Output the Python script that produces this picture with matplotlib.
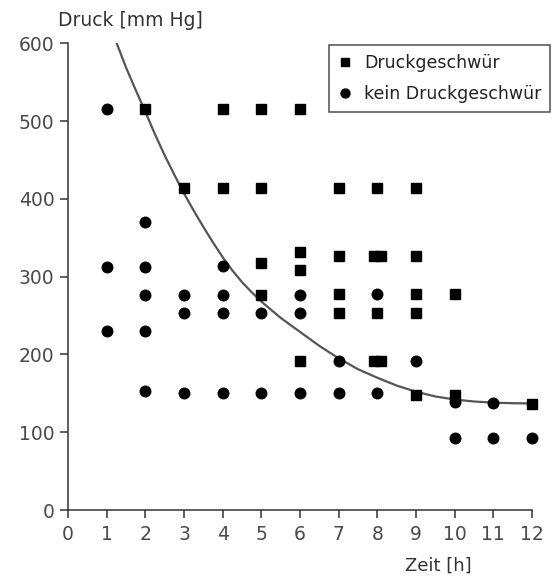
import matplotlib
matplotlib.use("Agg")
import matplotlib.pyplot as plt

# Druckgeschwür (squares)
sq_x = [2, 4, 5, 6,
        3, 4, 5, 7, 8, 9,
        6, 6, 5, 7, 7.91, 8.09, 9,
        5, 7, 9, 10,
        7, 8, 9,
        6, 7.91, 8.09,
        9, 10, 12]
sq_y = [515, 515, 515, 515,
        414, 414, 414, 414, 414, 414,
        332, 308, 318, 326, 326, 326, 326,
        276, 278, 278, 278,
        253, 253, 253,
        191, 191, 191,
        148, 148, 136]

# kein Druckgeschwür (circles)
ci_x = [1, 1, 1,
        2, 2, 2, 2, 2,
        3, 3, 3,
        4, 4, 4, 4,
        5, 5,
        6, 6, 6,
        7, 7,
        8, 8,
        9,
        10, 11,
        10, 11, 12]
ci_y = [515, 312, 230,
        370, 312, 276, 230, 153,
        276, 253, 151,
        314, 276, 253, 151,
        253, 151,
        276, 253, 151,
        192, 151,
        278, 151,
        192,
        139, 138,
        92, 92, 92]

# fitted curve
curve_x = [1.26, 1.5, 1.75, 2.0, 2.25, 2.5, 2.75, 3.0, 3.25, 3.5, 3.75, 4.0,
           4.25, 4.5, 4.75, 5.0, 5.5, 6.0, 6.5, 7.0, 7.5, 8.0, 8.5, 9.0, 9.5,
           10.0, 10.5, 11.0, 11.5, 12.0]
curve_y = [600, 569, 540, 512, 483, 456, 431, 407, 385, 364, 344, 325,
           308, 293, 280, 268, 247, 229, 211, 195, 181, 170, 160, 152, 146,
           142, 139.5, 138, 137.3, 137]

x_ticks = list(range(0, 13))
y_ticks = list(range(0, 700, 100))

W, H = 554, 579
fig = plt.figure(figsize=(W / 100, H / 100), dpi=100)
ax = fig.add_axes([68 / W, 1 - 510 / H, (532 - 68) / W, (510 - 43.3) / H])

ax.plot(curve_x, curve_y, color="#555555", lw=1.6, zorder=2, clip_on=True)
ax.plot(sq_x, sq_y, linestyle="none", marker="s", markersize=7.6,
        color="black", label="Druckgeschwür", zorder=3, clip_on=False)
ax.plot(ci_x, ci_y, linestyle="none", marker="o", markersize=7.6,
        color="black", label="kein Druckgeschwür", zorder=3, clip_on=False)

ax.set_xlim(0, 12)
ax.set_ylim(0, 600)
ax.set_xticks(x_ticks)
ax.set_yticks(y_ticks)
ax.set_xticklabels([str(v) for v in x_ticks])
ax.set_yticklabels([str(v) for v in y_ticks])

for s in ["top", "right"]:
    ax.spines[s].set_visible(False)
for s in ["left", "bottom"]:
    ax.spines[s].set_color("#333333")
    ax.spines[s].set_linewidth(1.1)

ax.tick_params(axis="both", direction="out", length=5.8, width=1.1,
               color="#333333", labelcolor="#4a4a4a", labelsize=13.5)
ax.tick_params(axis="y", pad=4)
ax.tick_params(axis="x", pad=5)

fig.text(58 / W, 1 - 20 / H, "Druck [mm Hg]", fontsize=13.5, color="#333333",
         ha="left", va="center")
fig.text(438 / W, 1 - 566 / H, "Zeit [h]", fontsize=13, color="#333333",
         ha="center", va="center")

leg = ax.legend(loc="upper right", bbox_to_anchor=(550 / W, 1 - 45 / H),
                bbox_transform=fig.transFigure, borderaxespad=0,
                fancybox=False, frameon=True, fontsize=12.5,
                handlelength=0.8, handletextpad=0.7, borderpad=0.5,
                labelspacing=0.78, markerscale=0.85)
leg.get_frame().set_edgecolor("#222222")
leg.get_frame().set_linewidth(1.1)
for t in leg.get_texts():
    t.set_color("#222222")

fig.savefig("out.png", dpi=100)
